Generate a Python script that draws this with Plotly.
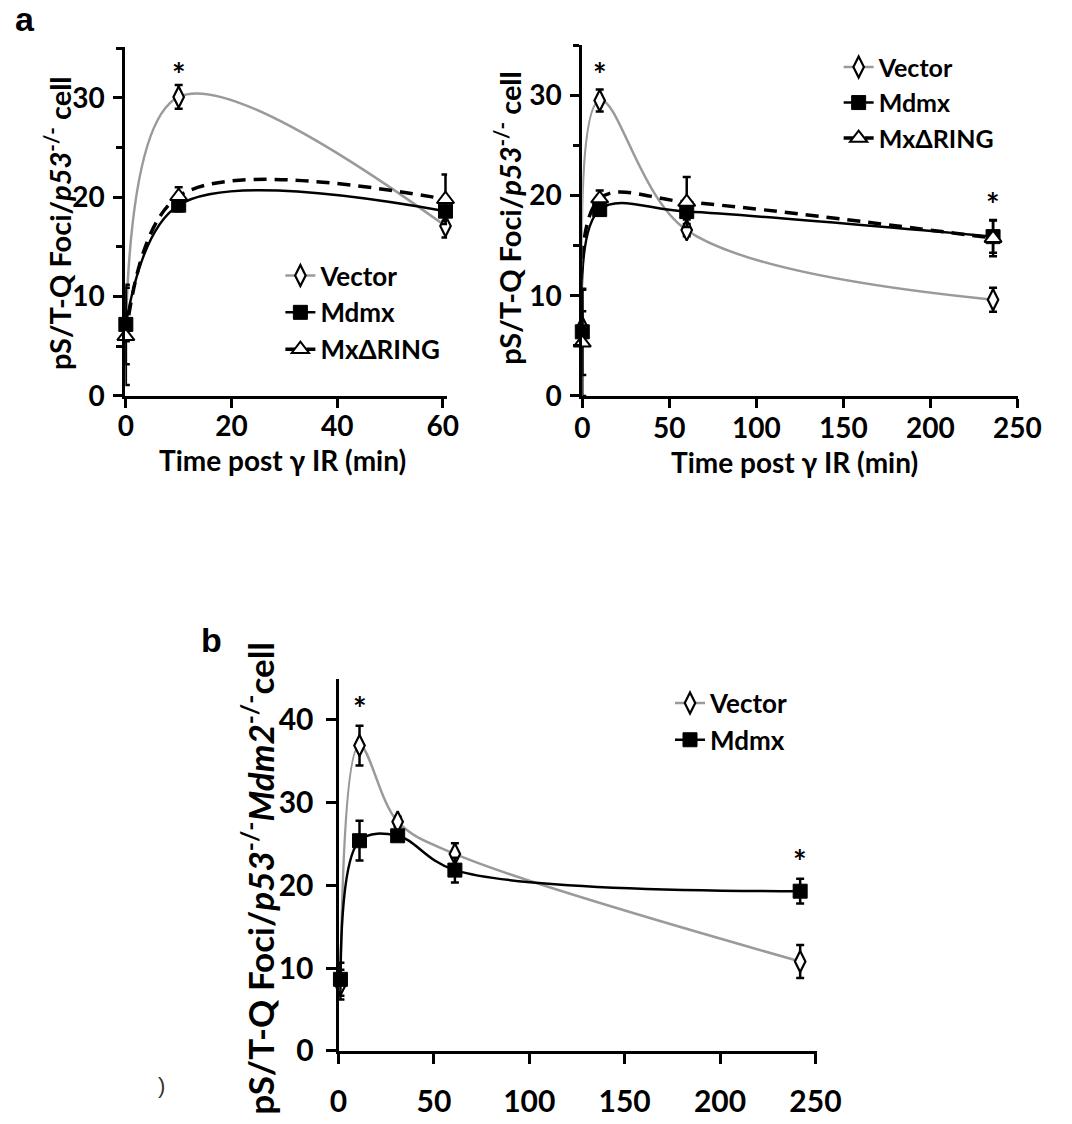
import plotly.graph_objects as go

W, H = 1072, 1124
FONT = "Lato"

# ---------------- data ----------------
# Panel a, left (0-60 min)
aL_t = [0, 10, 60.5]
aL_vec = [7.0, 30.1, 17.1]
aL_vec_err = [1.5, 1.2, 1.15]
aL_mdmx = [7.2, 19.2, 18.6]
aL_mdmx_err = [4.0, 0.6, 1.0]
aL_ring = [6.0, 20.1, 19.8]
aL_ring_err = [4.9, 0.9, 2.5]

# Panel a, right (0-240 min)
aR_t = [0, 10, 60, 236]
aR_vec = [6.85, 29.5, 16.55, 9.6]
aR_vec_err = [1.6, 1.1, 0.6, 1.2]
aR_mdmx = [6.4, 18.6, 18.4, 15.9]
aR_mdmx_err = [4.3, 0.6, 0.8, 1.6]
aR_ring = [5.3, 19.7, 19.35, 15.75]
aR_ring_err = [5.3, 0.8, 2.5, 1.8]

# Panel b
b_t = [1, 11, 31, 61, 242]
b_vec = [8.0, 36.9, 27.7, 23.8, 10.8]
b_vec_err = [1.8, 2.4, 0.6, 1.3, 2.0]
b_mdmx = [8.65, 25.4, 26.0, 21.85, 19.3]
b_mdmx_err = [2.0, 2.4, 0.6, 1.5, 1.5]

series_names = ["Vector", "Mdmx", "MxΔRING"]
aL_ticks_x = [0, 20, 40, 60]
aR_ticks_x = [0, 50, 100, 150, 200, 250]
b_ticks_x = [0, 50, 100, 150, 200, 250]
a_ticks_y = [0, 10, 20, 30]
a_minor_y = [5, 15, 25, 35]
b_ticks_y = [0, 10, 20, 30, 40]

# asterisk positions (data coords)
aL_star = ([10], [33.2])
aR_star = ([10, 236], [32.9, 19.9])
b_star = ([11, 242], [42.4, 23.8])

GRAY = "#9a9a9a"


def px_x(p):
    return p / W


def px_y(p):
    return 1 - p / H


fig = go.Figure()

styles = {
    "Vector": dict(line=dict(color=GRAY, width=2.5, shape="spline"),
                   marker=dict(symbol="diamond-tall", size=15, color="white",
                               line=dict(color="black", width=2.2))),
    "Mdmx": dict(line=dict(color="black", width=2.5, shape="spline"),
                 marker=dict(symbol="square", size=14, color="black",
                             line=dict(color="black", width=1))),
    "MxΔRING": dict(line=dict(color="black", width=3.5, dash="13px,8px", shape="spline"),
                    marker=dict(symbol="triangle-up", size=15, color="white",
                                line=dict(color="black", width=2))),
}


def add(name, t, y, e, xa, ya, legend):
    st = styles[name]
    fig.add_trace(go.Scatter(
        x=t, y=y, name=name, mode="lines+markers",
        line=st["line"], marker=st["marker"],
        error_y=dict(type="data", array=e, visible=True, color="black",
                     thickness=2.5, width=4),
        xaxis=xa, yaxis=ya, legend=legend, cliponaxis=False,
    ))


add("Vector", aL_t, aL_vec, aL_vec_err, "x", "y", "legend")
add("Mdmx", aL_t, aL_mdmx, aL_mdmx_err, "x", "y", "legend")
add("MxΔRING", aL_t, aL_ring, aL_ring_err, "x", "y", "legend")

add("Vector", aR_t, aR_vec, aR_vec_err, "x2", "y2", "legend2")
add("Mdmx", aR_t, aR_mdmx, aR_mdmx_err, "x2", "y2", "legend2")
add("MxΔRING", aR_t, aR_ring, aR_ring_err, "x2", "y2", "legend2")

add("Vector", b_t, b_vec, b_vec_err, "x3", "y3", "legend3")
add("Mdmx", b_t, b_mdmx, b_mdmx_err, "x3", "y3", "legend3")

tickfont_a = dict(family=FONT, size=28, color="black", weight="bold")
tickfont_b = dict(family=FONT, size=30, color="black", weight="bold")

common = dict(showline=True, linecolor="black", linewidth=3, ticks="outside",
              tickcolor="black", tickwidth=3, showgrid=False,
              zeroline=False, fixedrange=True)

minor_a = dict(ticks="outside", tickvals=a_minor_y, ticklen=6, tickwidth=2.5,
               tickcolor="black", showgrid=False)

fig.update_layout(
    width=W, height=H, margin=dict(l=0, r=0, t=0, b=0),
    paper_bgcolor="white", plot_bgcolor="white",
    font=dict(family=FONT, color="black"),
    xaxis=dict(**common, domain=[px_x(120), px_x(452)], range=[-0.1, 60.8],
               tickvals=aL_ticks_x, tickfont=tickfont_a, anchor="y", ticklen=9,
               ticklabelstandoff=-6),
    yaxis=dict(**common, domain=[px_y(402), px_y(48)], range=[0, 35.1],
               tickvals=a_ticks_y, tickfont=tickfont_a, anchor="x", minor=minor_a,
               ticklen=9, ticklabelstandoff=3),
    xaxis2=dict(**common, domain=[px_x(591.5), px_x(1041)], range=[0, 250.3],
                tickvals=aR_ticks_x, tickfont=tickfont_a, anchor="y2", ticklen=9,
                ticklabelstandoff=-4),
    yaxis2=dict(**common, domain=[px_y(402), px_y(46)], range=[0, 35],
                tickvals=a_ticks_y, tickfont=tickfont_a, anchor="x2", minor=minor_a,
                ticklen=9, ticklabelstandoff=3),
    xaxis3=dict(**common, domain=[px_x(340), px_x(834)], range=[0, 251],
                tickvals=b_ticks_x, tickfont=tickfont_b, anchor="y3", ticklen=10,
                ticklabelstandoff=12),
    yaxis3=dict(**common, domain=[px_y(1067), px_y(689)], range=[0, 45],
                tickvals=b_ticks_y, tickfont=tickfont_b, anchor="x3", ticklen=10,
                ticklabelstandoff=6),
)

legcommon = dict(xanchor="left", yanchor="top", bgcolor="rgba(0,0,0,0)",
                 itemwidth=30, tracegroupgap=0, borderwidth=0)
fig.update_layout(
    legend=dict(**legcommon, x=px_x(280), y=px_y(256),
                font=dict(family=FONT, size=26, color="black", weight="bold")),
    legend2=dict(**legcommon, x=px_x(856), y=px_y(45),
                 font=dict(family=FONT, size=25, color="black", weight="bold")),
    legend3=dict(**legcommon, x=px_x(682), y=px_y(690),
                 font=dict(family=FONT, size=26, color="black", weight="bold")),
)

ann = []
# asterisks
for xa, ya, (sx, sy) in [("x", "y", aL_star), ("x2", "y2", aR_star), ("x3", "y3", b_star)]:
    for xx, yy in zip(sx, sy):
        ann.append(dict(x=xx, y=yy, xref=xa, yref=ya, text="<b>*</b>", showarrow=False,
                        xanchor="center", yanchor="middle", yshift=-8,
                        font=dict(family=FONT, size=32, color="black")))

# axis titles
ytitle_a = "<b>pS/T-Q Foci/<i>p53</i><sup>-/-</sup> cell</b>"
ytitle_b = "<b>pS/T-Q Foci/<i>p53</i><sup>-/-</sup><i>Mdm2</i><sup>-/-</sup>cell</b>"
xtitle = "<b>Time post γ IR (min)</b>"


def pann(x, y, text, size, family=FONT, angle=0, xanchor="center", yanchor="middle",
         color="black"):
    return dict(x=px_x(x), y=px_y(y), xref="paper", yref="paper", text=text,
                textangle=angle, showarrow=False, xanchor=xanchor, yanchor=yanchor,
                font=dict(family=family, size=size, color=color))


ann += [
    pann(50, 226, ytitle_a, 29, angle=-90),
    pann(514, 221, ytitle_a, 29, angle=-90),
    pann(257, 650, ytitle_b, 35, angle=-90, yanchor="top"),
    pann(282, 467, xtitle, 28),
    pann(810, 469, xtitle, 28),
    # panel letters
    pann(17, 19, "<b>a</b>", 34, family="Liberation Sans"),
    pann(209, 650, "<b>b</b>", 34, family="Liberation Sans"),
    # stray crop artifact
    pann(157, 1102, ")", 22, family="Liberation Sans", color="#333333"),
]
fig.update_layout(annotations=ann)

fig.write_html(
    "out.html",
    config={"displayModeBar": False},
    post_script=(
        "var gd=document.getElementById('{plot_id}');"
        "gd.style.position='absolute';gd.style.left='0px';gd.style.top='0px';"
        "document.documentElement.style.margin='0px';"
        "document.documentElement.style.overflow='hidden';"
        "document.body.style.margin='0px';"
        "document.body.style.padding='0px';"
        "document.body.style.overflow='hidden';"
        "document.body.style.height='1124px';"
    ),
)
